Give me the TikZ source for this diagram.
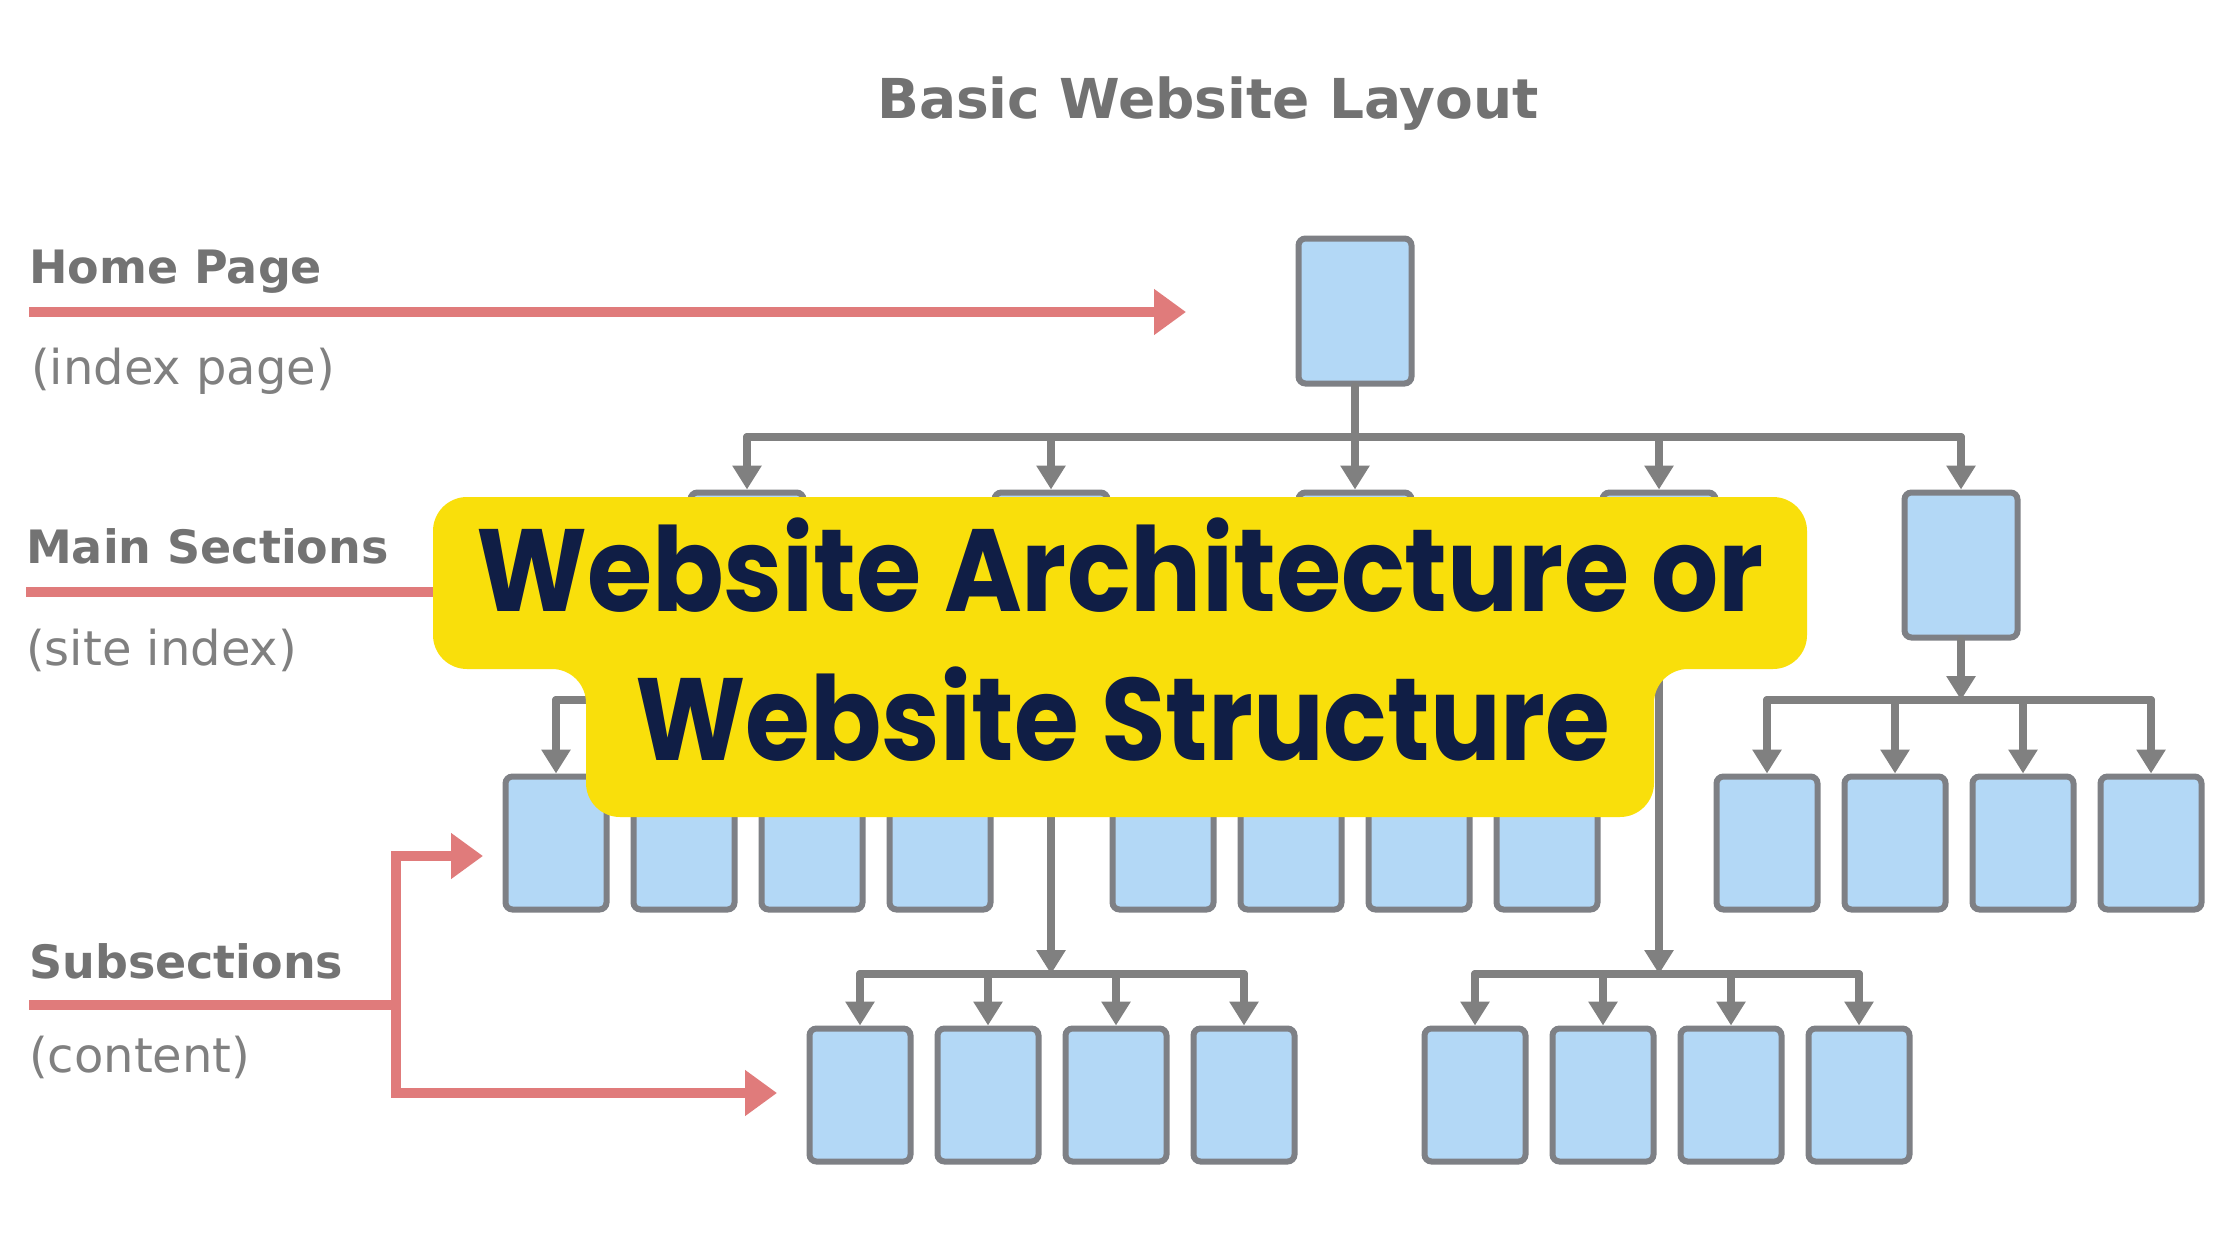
\documentclass[tikz,border=0pt]{standalone}
\usepackage{fontspec}
\usepackage{graphicx}
\setmainfont{DejaVu Sans}
\newfontfamily\yfont{Poppins}
\usetikzlibrary{arrows.meta}
\definecolor{boxgray}{HTML}{7E8085}
\definecolor{boxblue}{HTML}{B3D8F6}
\definecolor{wiregray}{HTML}{808080}
\definecolor{redc}{HTML}{E07B7B}
\definecolor{yellowc}{HTML}{F9DF0B}
\definecolor{navy}{HTML}{101E45}
\definecolor{lblgray}{HTML}{737373}
\definecolor{sublgray}{HTML}{808080}
\definecolor{titlegray}{HTML}{727272}
\begin{document}
\begin{tikzpicture}[x=1pt,y=-1pt,
  bigpage/.style={draw=boxgray, fill=boxblue, line width=6pt, rounded corners=7pt,
    minimum width=113pt, minimum height=145pt, inner sep=0pt},
  smallpage/.style={bigpage, minimum width=101pt, minimum height=133pt},
  wire/.style={draw=wiregray, line width=8pt, line cap=round},
  wirearrow/.style={wire, -{Triangle[width=28pt,length=24pt]}},
  redwire/.style={draw=redc, line width=10pt},
  redarrow/.style={redwire, -{Triangle[width=44pt,length=32pt]}},
  lbl/.style={anchor=base west, inner sep=0pt, font=\fontsize{46}{50}\selectfont\bfseries, text=lblgray},
  sublbl/.style={anchor=base west, inner sep=0pt, font=\fontsize{48}{50}\selectfont, text=sublgray},
  bigtext/.style={anchor=base, inner sep=0pt, text=navy}
]
\useasboundingbox (0,0) rectangle (2240,1260);
\fill[white] (0,0) rectangle (2240,1260);

% title
\node[anchor=base, inner sep=0pt, font=\fontsize{55}{60}\selectfont\bfseries, text=titlegray] (title) at (1208,119) {Basic Website Layout};

% pages
\node[bigpage] (home) at (1355,311) {};
\foreach \i/\x in {1/747,2/1051,3/1355,4/1659,5/1961}
  \node[bigpage] (m\i) at (\x,565) {};
\foreach \g/\cx in {1/748,3/1355,5/1959}
  \foreach \k/\dx in {1/-192,2/-64,3/64,4/192}
    \node[smallpage] (s\g\k) at ({\cx+\dx},843) {};
\foreach \g/\cx in {2/1052,4/1667}
  \foreach \k/\dx in {1/-192,2/-64,3/64,4/192}
    \node[smallpage] (s\g\k) at ({\cx+\dx},1095) {};

% buses
\coordinate (topbus) at (1355,437);
\coordinate (bus1) at (748,700);
\coordinate (bus3) at (1355,700);
\coordinate (bus5) at (1959,700);
\coordinate (bus2) at (1052,974);
\coordinate (bus4) at (1667,974);

\draw[wire] (home.south) -- (home.south |- topbus);
\draw[wire] (m1.north |- topbus) -- (m5.north |- topbus);
\foreach \i in {1,...,5}
  \draw[wirearrow] (m\i.north |- topbus) -- (m\i.north);

\foreach \g in {1,...,5}{
  \draw[wirearrow] (m\g.south) -- (m\g.south |- bus\g);
  \draw[wire] (s\g1.north |- bus\g) -- (s\g4.north |- bus\g);
  \foreach \k in {1,...,4}
    \draw[wirearrow] (s\g\k.north |- bus\g) -- (s\g\k.north);
}

% left labels
\node[lbl] (hp) at (29,283) {Home Page};
\node[sublbl] (hpsub) at (31,384) {(index page)};
\node[lbl] (ms) at (26,563) {Main Sections};
\node[sublbl] (mssub) at (26,665) {(site index)};
\node[lbl] (ss) at (29,978) {Subsections};
\node[sublbl] (sssub) at (29,1072) {(content)};

% red arrows
\coordinate (hpA) at (29,312);
\coordinate (hpB) at (1186,312);
\draw[redarrow] (hpA) -- (hpB);
\coordinate (msA) at (26,592);
\coordinate (msB) at (700,592);
\draw[redwire] (msA) -- (msB);
\coordinate (ssA) at (29,1005);
\coordinate (ssJ) at (396,1005);
\coordinate (ssT) at (483,856);
\coordinate (ssB) at (777,1093);
\draw[redwire] (ssA) -- (ssJ);
\draw[redarrow] (ssJ) |- (ssT);
\draw[redarrow] (ssJ) |- (ssB);

% yellow label
\fill[yellowc, rounded corners=34pt] (433,497) -- (1807,497) -- (1807,669) -- (1654,669)
  -- (1654,817) -- (586,817) -- (586,669) -- (433,669) -- cycle;
\node[bigtext] (t1) at (1120,611) {\resizebox{1288pt}{\height}{\yfont\bfseries\fontsize{117}{120}\selectfont Website Architecture or}};
\node[bigtext] (t2) at (1123,760) {\resizebox{975pt}{\height}{\yfont\bfseries\fontsize{117}{120}\selectfont Website Structure}};
\end{tikzpicture}
\end{document}
